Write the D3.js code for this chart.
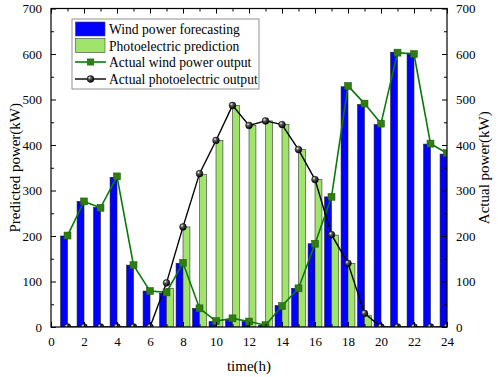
<!DOCTYPE html>
<html><head><meta charset="utf-8">
<script src="https://cdn.jsdelivr.net/npm/d3@7"></script>
<style>body{margin:0;background:#fff}svg{display:block}text{font-family:"Liberation Serif","Times New Roman",serif}</style>
</head><body><svg id="c" width="498" height="377"></svg>
<script>
const hours = d3.range(1, 25);
const windForecast = [200,276,263,329,136,79,74,140,41,12,15,12,4,47,85,183,286,528,489,445,604,602,402,380];
const photoForecast = [0,0,0,0,0,0,85,220,335,410,487,443,453,445,390,324,202,140,26,0,0,0,0,0];
const windActual = [201,276,262,331,136,79,76,141,41,13,19,12,4,46,85,183,286,530,491,447,603,600,403,382];
const photoActual = [0,0,0,0,0,0,97,220,337,410,487,443,453,445,390,324,203,140,30,0,0,0,0,0];
const xTicks = d3.range(0, 25, 2);
const yTicks = d3.range(0, 701, 100);
const legendLabels = ["Wind power forecasting","Photoelectric prediction","Actual wind power output","Actual photoelectric output"];

const svg = d3.select("#c");
const L = 51, R = 447, T = 8.5, B = 327;
const x = d3.scaleLinear().domain([0, 24]).range([L, R]);
const y = d3.scaleLinear().domain([0, 700]).range([B, T]);
const bw = 0.42;
const blue = "#0000ff", lgreen = "#a0e46c", dgreen = "#0a7a0a", sq = "#2f7d12";

const defs = svg.append("defs");
const rg = defs.append("radialGradient").attr("id","ball").attr("cx","35%").attr("cy","32%").attr("r","70%");
rg.append("stop").attr("offset","0%").attr("stop-color","#eeeeee");
rg.append("stop").attr("offset","35%").attr("stop-color","#555");
rg.append("stop").attr("offset","100%").attr("stop-color","#000");
defs.append("clipPath").attr("id","plot").append("rect").attr("x", L).attr("y", T).attr("width", R - L).attr("height", B - T);

const plot = svg.append("g").attr("clip-path", "url(#plot)");
// bars
plot.append("g").selectAll("rect").data(hours).join("rect")
  .attr("x", (h) => x(h - bw)).attr("width", x(bw) - x(0))
  .attr("y", (h, i) => y(windForecast[i])).attr("height", (h, i) => B - y(windForecast[i]))
  .attr("fill", blue).attr("stroke", "#222").attr("stroke-width", 0.6);
plot.append("g").selectAll("rect").data(hours).join("rect")
  .attr("x", (h) => x(h)).attr("width", x(bw) - x(0))
  .attr("y", (h, i) => y(photoForecast[i])).attr("height", (h, i) => B - y(photoForecast[i]))
  .attr("fill", lgreen).attr("stroke", "#333").attr("stroke-width", 0.6);

// lines
const line = d3.line().x((d) => x(d[0])).y((d) => y(d[1]));
plot.append("path").datum(hours.map((h, i) => [h, windActual[i]])).attr("d", line)
  .attr("fill", "none").attr("stroke", dgreen).attr("stroke-width", 1.6);
plot.append("path").datum(hours.map((h, i) => [h, photoActual[i]])).attr("d", line)
  .attr("fill", "none").attr("stroke", "#000").attr("stroke-width", 1.4);
plot.append("g").selectAll("rect").data(hours).join("rect")
  .attr("x", (h) => x(h) - 3.5).attr("y", (h, i) => y(windActual[i]) - 3.5)
  .attr("width", 7).attr("height", 7).attr("fill", sq).attr("stroke", "#1f5a0a").attr("stroke-width", 0.5);
plot.append("g").selectAll("circle").data(hours).join("circle")
  .attr("cx", (h) => x(h)).attr("cy", (h, i) => y(photoActual[i])).attr("r", 3.4)
  .attr("fill", "url(#ball)").attr("stroke", "#000").attr("stroke-width", 0.5);

// axes
const fs = 13;
const ax = svg.append("g");
const mk = (g) => { g.select(".domain").remove(); g.selectAll("text").style("font-family", '"Liberation Serif",serif').style("font-size", fs + "px").attr("fill", "#000"); g.selectAll("line").attr("stroke", "#000"); };
ax.append("g").attr("transform", `translate(0,${B})`).call(d3.axisBottom(x).tickValues(xTicks).tickSize(-5).tickPadding(10)).call(mk);
ax.append("g").attr("transform", `translate(0,${B})`).call(d3.axisBottom(x).tickValues(d3.range(1, 24, 2)).tickSize(-3).tickFormat("")).call(mk);
ax.append("g").attr("transform", `translate(0,${T})`).call(d3.axisTop(x).tickValues(xTicks).tickSize(-5).tickFormat("")).call(mk);
ax.append("g").attr("transform", `translate(0,${T})`).call(d3.axisTop(x).tickValues(d3.range(1, 24, 2)).tickSize(-3).tickFormat("")).call(mk);
ax.append("g").attr("transform", `translate(${L},0)`).call(d3.axisLeft(y).tickValues(yTicks).tickSize(-5).tickPadding(9)).call(mk);
ax.append("g").attr("transform", `translate(${L},0)`).call(d3.axisLeft(y).tickValues(d3.range(50, 700, 100)).tickSize(-3).tickFormat("")).call(mk);
ax.append("g").attr("transform", `translate(${R},0)`).call(d3.axisRight(y).tickValues(yTicks).tickSize(-5).tickPadding(9)).call(mk);
ax.append("g").attr("transform", `translate(${R},0)`).call(d3.axisRight(y).tickValues(d3.range(50, 700, 100)).tickSize(-3).tickFormat("")).call(mk);
svg.append("rect").attr("x", L).attr("y", T).attr("width", R - L).attr("height", B - T)
  .attr("fill", "none").attr("stroke", "#000").attr("stroke-width", 1.2);

// titles
svg.append("text").attr("transform", `translate(20,${(T + B) / 2}) rotate(-90)`).attr("text-anchor", "middle")
  .attr("font-size", 15).text("Predicted power(kW)");
svg.append("text").attr("transform", `translate(489,${(T + B) / 2}) rotate(-90)`).attr("text-anchor", "middle")
  .attr("font-size", 15).text("Actual power(kW)");
svg.append("text").attr("x", (L + R) / 2).attr("y", 371).attr("text-anchor", "middle")
  .attr("font-size", 15).text("time(h)");

// legend
const lg = svg.append("g");
lg.append("rect").attr("x", 72).attr("y", 19).attr("width", 187).attr("height", 70)
  .attr("fill", "#fff").attr("stroke", "#777").attr("stroke-width", 0.8);
const rows = [29, 45.5, 62, 79];
lg.append("rect").attr("x", 75.5).attr("y", rows[0] - 7).attr("width", 29.5).attr("height", 14).attr("fill", blue).attr("stroke", "#444").attr("stroke-width", 0.6);
lg.append("rect").attr("x", 75.5).attr("y", rows[1] - 7).attr("width", 29.5).attr("height", 14).attr("fill", lgreen).attr("stroke", "#444").attr("stroke-width", 0.6);
lg.append("line").attr("x1", 75).attr("x2", 106).attr("y1", rows[2]).attr("y2", rows[2]).attr("stroke", dgreen).attr("stroke-width", 1.6);
lg.append("rect").attr("x", 87).attr("y", rows[2] - 3.5).attr("width", 7).attr("height", 7).attr("fill", sq);
lg.append("line").attr("x1", 75).attr("x2", 106).attr("y1", rows[3]).attr("y2", rows[3]).attr("stroke", "#000").attr("stroke-width", 1.4);
lg.append("circle").attr("cx", 90.5).attr("cy", rows[3]).attr("r", 3.4).attr("fill", "url(#ball)").attr("stroke", "#000").attr("stroke-width", 0.5);
lg.selectAll("text").data(legendLabels).join("text")
  .attr("x", 109).attr("y", (d, i) => rows[i] + 5).attr("font-size", 13.6).text((d) => d);
</script></body></html>
